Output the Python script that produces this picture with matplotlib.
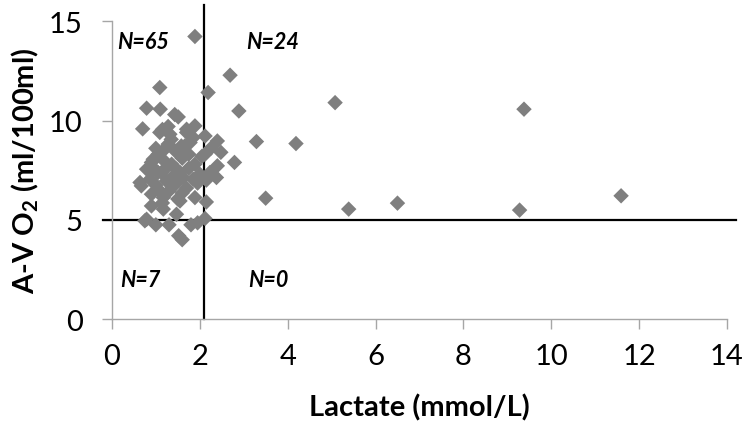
#!/usr/bin/env python3
# Scatter of A-V O2 difference vs lactate with quadrant counts.

import matplotlib
matplotlib.use('Agg')
import matplotlib.pyplot as plt

# lactate (mmol/L) and A-V O2 (ml/100ml)
lactate = [
    1.89, 1.09, 0.79, 1.10, 1.43, 1.51, 0.70, 1.15, 1.28, 1.70,
    1.89, 1.09, 1.32, 1.70, 1.85, 1.66, 1.78, 1.05, 0.94, 1.36,
    1.47, 1.89, 0.79, 1.05, 1.62, 0.64, 0.87, 1.24, 1.85, 0.67,
    0.90, 1.17, 1.55, 1.89, 0.90, 1.17, 1.47, 0.79, 2.05, 1.28,
    1.58, 1.20, 1.45, 1.00, 0.90, 1.13, 1.55, 2.00, 1.20, 1.60,
    1.75, 1.35, 1.00, 1.45, 1.70, 1.30, 1.05, 1.60, 0.95, 1.25,
    1.75, 1.50, 1.15, 1.95, 1.35,
    # top right
    2.69, 2.19, 5.08, 9.38, 2.89, 2.12, 2.40, 3.29, 4.19, 2.48,
    2.12, 2.79, 2.40, 2.23, 2.38, 3.50, 11.59, 6.50, 5.39, 9.28,
    2.12, 2.15, 2.25, 2.15,
    # bottom left
    0.75, 1.00, 1.30, 1.52, 1.60, 1.80, 1.95,
]
avo2 = [
    14.23, 11.66, 10.62, 10.57, 10.30, 10.18, 9.58, 9.55, 9.70, 9.56,
    9.73, 9.40, 9.31, 9.40, 9.14, 8.72, 8.89, 8.30, 8.05, 7.80,
    7.55, 7.80, 7.55, 7.38, 7.13, 6.88, 7.05, 6.96, 7.05, 6.71,
    6.29, 6.12, 5.95, 6.12, 5.70, 5.54, 5.28, 5.03, 8.20, 8.81,
    8.72, 8.55, 8.45, 8.60, 7.89, 7.38, 7.38, 7.30, 7.95, 8.10,
    7.60, 7.10, 6.75, 6.80, 6.60, 6.45, 6.55, 6.35, 7.60, 7.65,
    8.30, 6.05, 5.85, 6.85, 9.05,
    12.28, 11.41, 10.90, 10.57, 10.48, 9.22, 8.97, 8.94, 8.84, 8.40,
    8.30, 7.89, 7.72, 7.38, 7.13, 6.09, 6.21, 5.84, 5.54, 5.49,
    5.07, 7.00, 8.60, 5.90,
    4.95, 4.75, 4.75, 4.20, 4.00, 4.75, 4.85,
]

cut_lactate = 2.1
cut_avo2 = 5.0
quadrant_labels = ['N=65', 'N=24', 'N=7', 'N=0']
label_x = [0.12, 3.05, 0.18, 3.1]
label_y = [14.0, 14.0, 2.0, 2.0]

plt.rcParams['font.family'] = ['Lato', 'DejaVu Sans']

fig = plt.figure(figsize=(7.51, 4.35), dpi=100)
ax = fig.add_axes([0.149, 0.264, 0.819, 0.685])

ax.scatter(lactate, avo2, marker='D', s=62, color='#7f7f7f',
           edgecolors='none', zorder=3)

ax.plot([cut_lactate, cut_lactate], [0, 15.8], color='black', lw=1.6,
        zorder=2, clip_on=False)
ax.plot([-0.2, 14.2], [cut_avo2, cut_avo2], color='black', lw=1.6,
        zorder=2, clip_on=False)

for txt, x, y in zip(quadrant_labels, label_x, label_y):
    ax.text(x, y, txt, fontsize=15.5, fontweight='bold', fontstyle='italic',
            va='center', ha='left')

ax.set_xlim(0, 14)
ax.set_ylim(0, 15)
ax.set_xticks(range(0, 15, 2))
ax.set_yticks([0, 5, 10, 15])

for side in ['top', 'right']:
    ax.spines[side].set_visible(False)
for side in ['left', 'bottom']:
    ax.spines[side].set_color('#a6a6a6')
    ax.spines[side].set_linewidth(1.0)

ax.tick_params(axis='both', colors='#a6a6a6', labelcolor='black',
               labelsize=21, length=7, width=1.0, direction='out')
ax.tick_params(axis='x', pad=10)
ax.tick_params(axis='y', pad=14)

ax.set_xlabel('Lactate (mmol/L)', fontsize=21, fontweight='bold', labelpad=18)
ax.set_ylabel('A-V O$_\\mathregular{2}$ (ml/100ml)', fontsize=21,
              fontweight='bold', labelpad=6)

fig.savefig('out.png', dpi=100)
